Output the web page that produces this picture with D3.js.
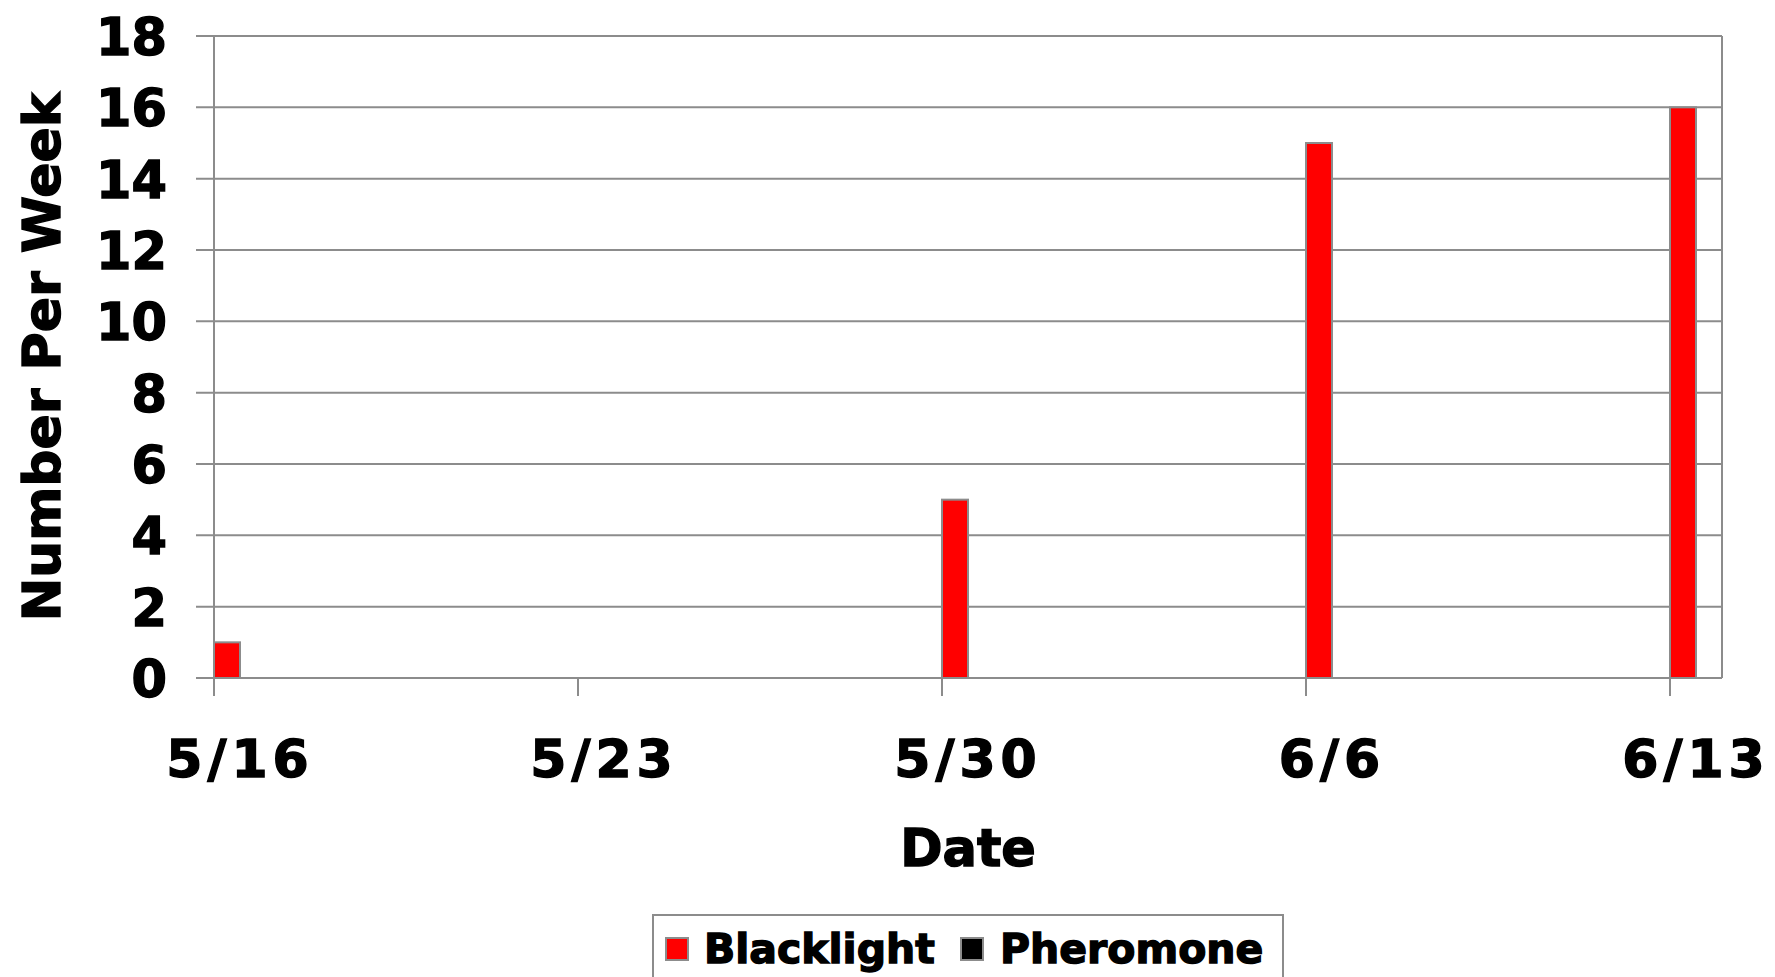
<!DOCTYPE html>
<html>
<head>
<meta charset="utf-8">
<script src="https://cdn.jsdelivr.net/npm/d3@7"></script>
<style>
  html, body { margin: 0; padding: 0; background: #fff; overflow: hidden; }
  svg { display: block; font-family: "DejaVu Sans", Verdana, sans-serif; font-weight: bold; }
  svg text { fill: #000; stroke: #000; stroke-width: 1.4px; }
</style>
</head>
<body>
<div id="chart"></div>
<script>
// === DATA ===
const dates = ["2008-05-16", "2008-05-23", "2008-05-30", "2008-06-06", "2008-06-13"];
const tickLabels = ["5/16", "5/23", "5/30", "6/6", "6/13"];
const blacklight = [1, 0, 5, 15, 16];
const pheromone = [0, 0, 0, 0, 0];
const yTicks = [0, 2, 4, 6, 8, 10, 12, 14, 16, 18];
const seriesNames = ["Blacklight", "Pheromone"];
const seriesColors = ["#ff0000", "#000000"];

// === LAYOUT ===
const W = 1775, H = 977;
const plot = { left: 214, right: 1722, top: 36, bottom: 678 };
const grey = "#8c8c8c";

const svg = d3.select("#chart").append("svg")
  .attr("width", W)
  .attr("height", H);

const parse = d3.utcParse("%Y-%m-%d");
const dayMs = 24 * 3600 * 1000;
const halfDay = dayMs / 2;
const dateObjs = dates.map(parse);

const x = d3.scaleUtc()
  .domain([dateObjs[0], new Date(+dateObjs[dateObjs.length - 1] + dayMs)])
  .range([plot.left, plot.right]);

const y = d3.scaleLinear().domain([0, 18]).range([plot.bottom, plot.top]);

// gridlines (with the short outside tick)
svg.append("g")
  .selectAll("line")
  .data(yTicks)
  .join("line")
  .attr("x1", plot.left - 18)
  .attr("x2", plot.right)
  .attr("y1", d => y(d))
  .attr("y2", d => y(d))
  .attr("stroke", grey)
  .attr("stroke-width", 2);

// plot frame (left + right)
svg.append("line")
  .attr("x1", plot.left).attr("x2", plot.left)
  .attr("y1", plot.top).attr("y2", plot.bottom + 18)
  .attr("stroke", grey).attr("stroke-width", 2);
svg.append("line")
  .attr("x1", plot.right).attr("x2", plot.right)
  .attr("y1", plot.top).attr("y2", plot.bottom)
  .attr("stroke", grey).attr("stroke-width", 2);

// y tick labels
svg.append("g")
  .selectAll("text")
  .data(yTicks)
  .join("text")
  .attr("x", 167)
  .attr("y", d => y(d) + 19)
  .attr("text-anchor", "end")
  .attr("font-size", 51)
  .text(d => d);

// x ticks
svg.append("g")
  .selectAll("line")
  .data(dateObjs)
  .join("line")
  .attr("x1", d => x(d)).attr("x2", d => x(d))
  .attr("y1", plot.bottom).attr("y2", plot.bottom + 18)
  .attr("stroke", grey).attr("stroke-width", 2);

// labels sit in the middle of each day slot
svg.append("g")
  .selectAll("text")
  .data(dateObjs)
  .join("text")
  .attr("x", d => x(new Date(+d + halfDay)))
  .attr("y", 777)
  .attr("text-anchor", "middle")
  .attr("font-size", 52)
  .attr("letter-spacing", 5)
  .text((d, i) => tickLabels[i]);

// bars: each series takes half a day after its date
const barData = [];
dateObjs.forEach((d, i) => {
  [blacklight[i], pheromone[i]].forEach((v, s) => {
    barData.push({ date: d, value: v, s });
  });
});

svg.append("g")
  .selectAll("rect")
  .data(barData.filter(d => d.value > 0))
  .join("rect")
  .attr("x", d => x(new Date(+d.date + d.s * halfDay)))
  .attr("width", d => x(new Date(+d.date + (d.s + 1) * halfDay)) - x(new Date(+d.date + d.s * halfDay)))
  .attr("y", d => y(d.value))
  .attr("height", d => y(0) - y(d.value))
  .attr("fill", d => seriesColors[d.s])
  .attr("stroke", grey)
  .attr("stroke-width", 2);

// axis titles
svg.append("text")
  .attr("x", (plot.left + plot.right) / 2)
  .attr("y", 866)
  .attr("text-anchor", "middle")
  .attr("font-size", 51)
  .text("Date");

svg.append("text")
  .attr("transform", `translate(60,${(plot.top + plot.bottom) / 2}) rotate(-90)`)
  .attr("text-anchor", "middle")
  .attr("font-size", 52)
  .text("Number Per Week");

// legend
const legend = svg.append("g");
legend.append("rect")
  .attr("x", 653).attr("y", 915)
  .attr("width", 630).attr("height", 90)
  .attr("fill", "#fff")
  .attr("stroke", grey).attr("stroke-width", 2);

const legendX = [666, 961];
const legendTextX = [704, 1000];
seriesNames.forEach((name, i) => {
  legend.append("rect")
    .attr("x", legendX[i]).attr("y", 938)
    .attr("width", 22).attr("height", 22)
    .attr("fill", seriesColors[i])
    .attr("stroke", grey).attr("stroke-width", 2);
  legend.append("text")
    .attr("x", legendTextX[i]).attr("y", 963)
    .attr("font-size", 41)
    .text(name);
});
</script>
</body>
</html>
